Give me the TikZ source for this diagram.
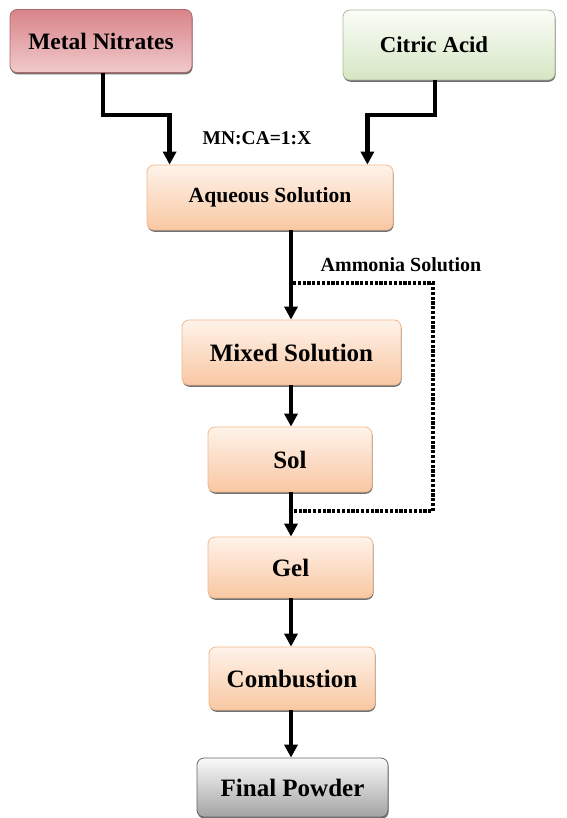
\documentclass[tikz,border=0pt]{standalone}
\usepackage{fontspec}
\setmainfont{Liberation Serif}
\usetikzlibrary{arrows.meta,shadows}
\definecolor{peachB}{HTML}{F9C7A2}
\definecolor{peachT}{HTML}{FEF3EA}
\definecolor{peachD}{HTML}{F2B98E}
\definecolor{pinkT}{HTML}{D8848A}
\definecolor{pinkB}{HTML}{F1CACB}
\definecolor{greenT}{HTML}{FBFDF8}
\definecolor{greenB}{HTML}{D5E6C3}
\definecolor{grayT}{HTML}{FAFAFA}
\definecolor{grayB}{HTML}{A3A3A3}
\tikzset{
  boxbase/.style={rounded corners=7pt, inner sep=2pt, font=\fontsize{25}{29}\selectfont\bfseries,
    drop shadow={shadow xshift=0.6pt, shadow yshift=-1.8pt, fill=black!70, opacity=0.8}},
  peachbox/.style={boxbase, draw=peachD, line width=0.8pt, top color=peachT, bottom color=peachB},
  pinkbox/.style={boxbase, draw=pinkT!80!black, line width=0.8pt, top color=pinkT, bottom color=pinkB},
  greenbox/.style={boxbase, draw=greenB!80!black, line width=0.8pt, top color=greenT, bottom color=greenB},
  graybox/.style={boxbase, draw=black!60, line width=0.8pt, top color=grayT, bottom color=grayB},
  flow/.style={line width=4.5pt, -{Triangle[width=13pt,length=13pt]}},
  dotflow/.style={line width=4pt, dash pattern=on 3.2pt off 1.6pt},
  lbl/.style={font=\fontsize{19.5}{23}\selectfont\bfseries}
}
\begin{document}
\begin{tikzpicture}[x=1pt,y=-1pt]
\useasboundingbox (0,0) rectangle (566,818);
\node[pinkbox, minimum width=182pt, minimum height=63pt, font=\fontsize{23.5}{28}\selectfont\bfseries] (mn) at (101,41) {Metal Nitrates};
\node[greenbox, minimum width=212pt, minimum height=70pt, font=\fontsize{22.8}{27}\selectfont\bfseries] (ca) at (449,45) {Citric Acid\rule{30pt}{0pt}};
\node[peachbox, minimum width=246pt, minimum height=65pt, font=\fontsize{21.6}{26}\selectfont\bfseries] (aq) at (270,197.5) {Aqueous Solution};
\node[peachbox, minimum width=219pt, minimum height=65pt] (mx) at (291.5,352.5) {Mixed Solution};
\node[peachbox, minimum width=164pt, minimum height=65pt] (sol) at (290,459.5) {Sol};
\node[peachbox, minimum width=165pt, minimum height=61pt] (gel) at (290.5,567.5) {Gel};
\node[peachbox, minimum width=166pt, minimum height=63pt] (comb) at (292,678.5) {Combustion};
\node[graybox, minimum width=191pt, minimum height=59pt] (fp) at (292.5,787.5) {Final Powder};

\node[lbl] (ratio) at (257,138) {MN:CA=1:X};
\node[lbl, font=\fontsize{20}{24}\selectfont\bfseries] (amm) at (401,265) {Ammonia Solution};

\coordinate (c1) at (103,115);
\coordinate (c2) at (435,115);
\draw[flow] ([xshift=2pt]mn.south) -- (c1) -| ([xshift=23pt]aq.north west);
\draw[flow] ([xshift=-14pt]ca.south) -- (c2) -| ([xshift=-26pt]aq.north east);

\coordinate (col) at (291,0);
\draw[flow] (aq.south -| col) -- (mx.north -| col);
\draw[flow] (mx.south -| col) -- (sol.north -| col);
\draw[flow] (sol.south -| col) -- (gel.north -| col);
\draw[flow] (gel.south -| col) -- (comb.north -| col);
\draw[flow] (comb.south -| col) -- (fp.north -| col);

\coordinate (d1) at (293,283);
\coordinate (d2) at (433,283);
\coordinate (d3) at (433,511);
\coordinate (d4) at (293,511);
\draw[dotflow] (d1) -- (d2) -- (d3) -- (d4);
\end{tikzpicture}
\end{document}
